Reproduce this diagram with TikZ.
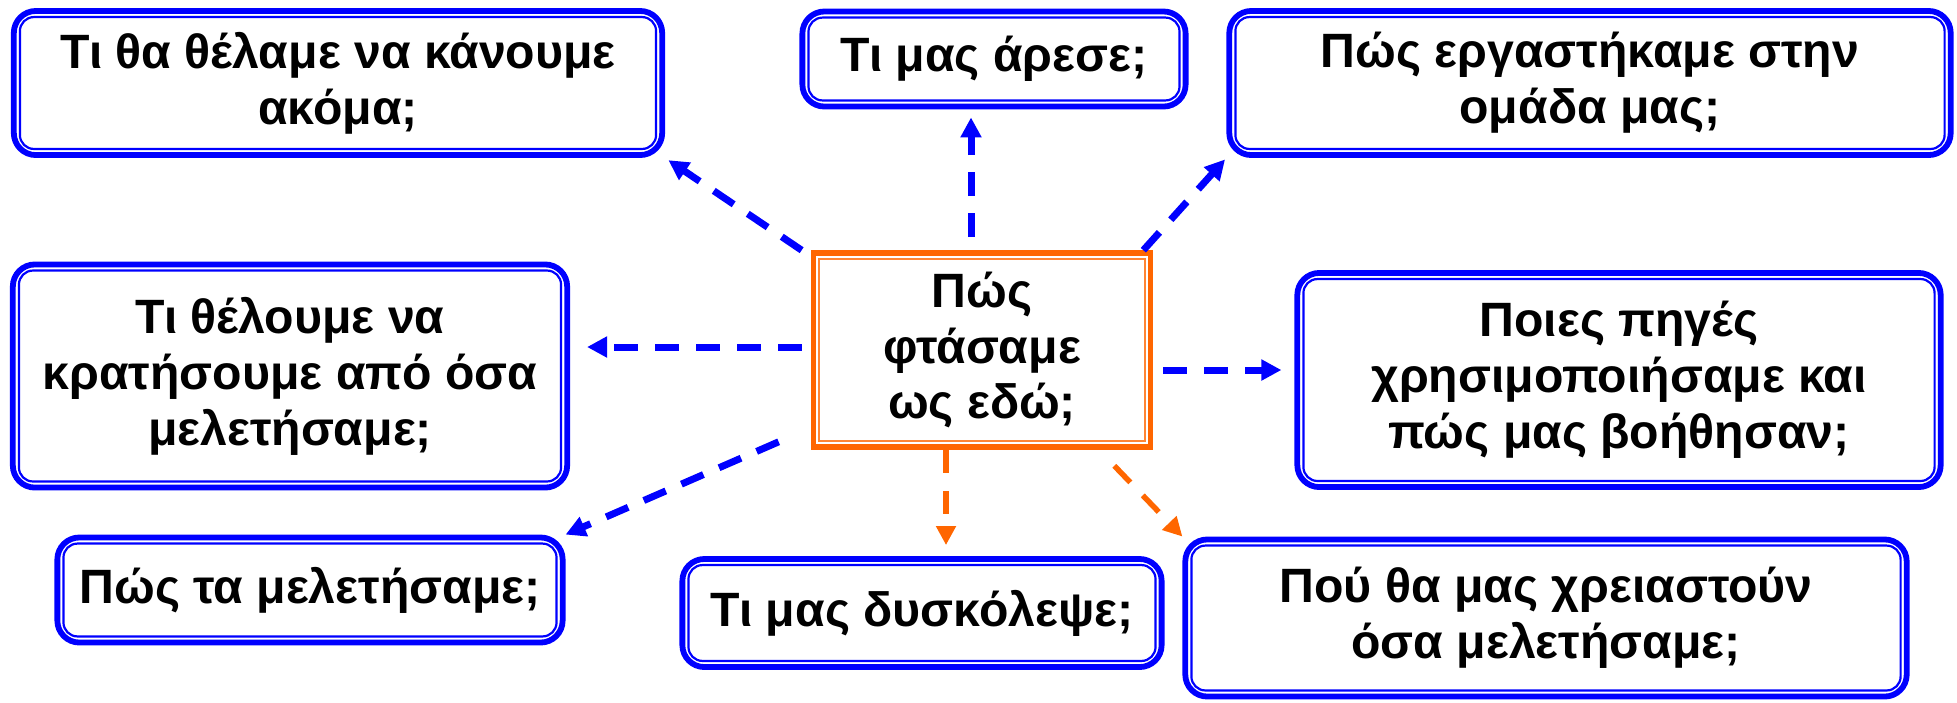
\documentclass[tikz,border=0pt]{standalone}
\usepackage{fontspec}
\setmainfont{Liberation Sans}
\usetikzlibrary{arrows.meta, calc}

\definecolor{qblue}{RGB}{0,0,255}
\definecolor{qorange}{RGB}{255,102,0}

\begin{document}
\begin{tikzpicture}[
  x=0.01cm, y=-0.01cm,
  qbox/.style={draw=qblue, line width=0.058cm, rounded corners=0.22cm, align=center,
               inner sep=0pt, font=\fontsize{13.7}{15.9}\selectfont\bfseries},
  hub/.style={draw=qorange, line width=0.055cm, align=center,
              inner sep=0pt, font=\fontsize{13.7}{15.9}\selectfont\bfseries},
  qinner/.style={draw=qblue, line width=0.022cm, rounded corners=0.14cm},
  hubinner/.style={draw=qorange!80, line width=0.018cm},
  barr/.style={-{Triangle[length=0.2cm, width=0.2cm]}, draw=qblue,
               line width=0.07cm, dash pattern=on 0.24cm off 0.17cm},
  oarr/.style={-{Triangle[length=0.19cm, width=0.19cm]}, draw=qorange,
               line width=0.055cm, dash pattern=on 0.23cm off 0.18cm}
]
\useasboundingbox (0,0) rectangle (1957,702);

\node[hub, minimum width=3.37cm, minimum height=1.94cm] (c) at (982,350) {Πώς\\φτάσαμε\\ως εδώ;};
\node[qbox, minimum width=6.48cm, minimum height=1.44cm] (tl) at (338,83) {Τι θα θέλαμε να κάνουμε\\ακόμα;};
\node[qbox, minimum width=3.83cm, minimum height=0.95cm] (top) at (994,59) {Τι μας άρεσε;};
\node[qbox, minimum width=7.21cm, minimum height=1.44cm] (tr) at (1590,83) {Πώς εργαστήκαμε στην\\ομάδα μας;};
\node[qbox, minimum width=5.54cm, minimum height=2.23cm] (ml) at (290,376) {Τι θέλουμε να\\κρατήσουμε από όσα\\μελετήσαμε;};
\node[qbox, minimum width=6.43cm, minimum height=2.14cm] (mr) at (1619,380) {Ποιες πηγές\\χρησιμοποιήσαμε και\\πώς μας βοήθησαν;};
\node[qbox, minimum width=5.05cm, minimum height=1.05cm] (bl) at (310,590) {Πώς τα μελετήσαμε;};
\node[qbox, minimum width=4.79cm, minimum height=1.08cm] (bc) at (922,613) {Τι μας δυσκόλεψε;};
\node[qbox, minimum width=7.21cm, minimum height=1.57cm] (br) at (1546,618) {Πού θα μας χρειαστούν\\όσα μελετήσαμε;};

\foreach \n in {tl,top,tr,ml,mr,bl,bc,br}
  \draw[qinner] ($(\n.north west)+(9,9)$) rectangle ($(\n.south east)+(-9,-9)$);
\draw[hubinner] ($(c.north west)+(8.5,8.5)$) rectangle ($(c.south east)+(-8.5,-8.5)$);

\coordinate (ctl) at ($(c.north west)+(-9,0)$);
\coordinate (ctop) at ($(c.north)+(-11,-13)$);
\coordinate (ctr) at ($(c.north east)+(-10,0)$);
\coordinate (cml) at ($(c.west)+(-9,-3)$);
\coordinate (cmr) at ($(c.east)+(10,20)$);
\coordinate (cbl) at ($(c.south west)+(-32,-8)$);
\coordinate (cbc) at ($(c.south)+(-36,0)$);
\coordinate (cbr) at ($(c.south east)+(-39,16)$);

\draw[barr, shorten >=0.04cm] (ctl) -- (tl.south east);
\draw[barr, shorten >=0.08cm] (ctop) -- (ctop |- top.south);
\draw[barr, shorten >=0.02cm] (ctr) -- (tr.south west);
\draw[barr, shorten >=0.17cm] (cml) -- (cml -| ml.east);
\draw[barr, shorten >=0.13cm] (cmr) -- (cmr -| mr.west);
\draw[barr] (cbl) -- (bl.north east);
\draw[oarr, shorten >=0.11cm] (cbc) -- (cbc |- bc.north);
\draw[oarr] (cbr) -- (br.north west);
\end{tikzpicture}
\end{document}
